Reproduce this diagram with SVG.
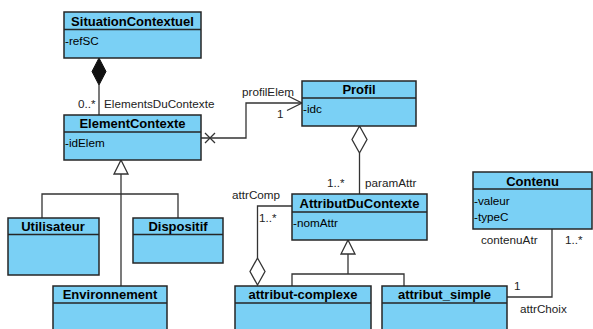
<svg xmlns="http://www.w3.org/2000/svg" width="593" height="329" viewBox="0 0 593 329">
<style>
.box{fill:#7AD0F5;stroke:#262626;stroke-width:1.5}
.div{stroke:#262626;stroke-width:1.5}
.t{font-family:"Liberation Sans",Arial,sans-serif;font-size:13px;font-weight:bold;fill:#000;text-anchor:middle}
.a{font-family:"Liberation Sans",Arial,sans-serif;font-size:11.7px;fill:#000}
.l{font-family:"Liberation Sans",Arial,sans-serif;font-size:11.7px;fill:#222}
.c{fill:none;stroke:#333;stroke-width:1.3}
</style>
<rect width="593" height="329" fill="#fff"/>
<g id="connectors">
  <!-- composition SituationContextuel - ElementContexte -->
  <line class="c" x1="99" y1="85" x2="99" y2="115"/>
  <polygon points="99,58 106,71.5 99,85 92,71.5" fill="#111" stroke="#111" stroke-width="1"/>
  <text class="l" x="78" y="108">0..*</text>
  <text class="l" x="104" y="108">ElementsDuContexte</text>
  <!-- ElementContexte -> Profil -->
  <polyline class="c" points="201,138 246,138 246,103 302,103"/>
  <path class="c" d="M205,133 L215,143 M215,133 L205,143"/>
  <path class="c" d="M288,96 L302,103 L287,110.5"/>
  <text class="l" x="242" y="96">profilElem</text>
  <text class="l" x="277" y="118">1</text>
  <!-- generalization to ElementContexte -->
  <line class="c" x1="121" y1="174" x2="121" y2="286"/>
  <polyline class="c" points="42,218 42,194 178,194 178,218"/>
  <polygon points="121,160 128,174 114,174" fill="#fff" stroke="#333" stroke-width="1.3"/>
  <!-- aggregation Profil - AttributDuContexte -->
  <line class="c" x1="359.5" y1="153" x2="359.5" y2="194"/>
  <polygon points="359.5,126 367,139.5 359.5,153 352,139.5" fill="#fff" stroke="#333" stroke-width="1.3"/>
  <text class="l" x="327" y="187">1..*</text>
  <text class="l" x="365" y="187">paramAttr</text>
  <!-- aggregation attribut-complexe - AttributDuContexte -->
  <polyline class="c" points="292,206 257.5,206 257.5,258"/>
  <polygon points="257.5,258 265,271.5 257.5,285 250,271.5" fill="#fff" stroke="#333" stroke-width="1.3"/>
  <text class="l" x="232" y="199">attrComp</text>
  <text class="l" x="259" y="222">1..*</text>
  <!-- generalization to AttributDuContexte -->
  <line class="c" x1="348" y1="254" x2="348" y2="274"/>
  <polyline class="c" points="292,286 292,274 404,274 404,286"/>
  <polygon points="348,240 355,254 341,254" fill="#fff" stroke="#333" stroke-width="1.3"/>
  <!-- Contenu - attribut_simple -->
  <polyline class="c" points="552,229 552,297 507,297"/>
  <text class="l" x="481" y="244">contenuAtr</text>
  <text class="l" x="565" y="244">1..*</text>
  <text class="l" x="514" y="290">1</text>
  <text class="l" x="520" y="313">attrChoix</text>
</g>
<g id="SituationContextuel">
  <rect class="box" x="64" y="12" width="137" height="46"/>
  <line class="div" x1="64" y1="29.5" x2="201" y2="29.5"/>
  <text class="t" x="132.5" y="26">SituationContextuel</text>
  <text class="a" x="65" y="45">-refSC</text>
</g>
<g id="ElementContexte">
  <rect class="box" x="64" y="115" width="137" height="45"/>
  <line class="div" x1="64" y1="132" x2="201" y2="132"/>
  <text class="t" x="132.5" y="128">ElementContexte</text>
  <text class="a" x="65" y="147">-idElem</text>
</g>
<g id="Profil">
  <rect class="box" x="302" y="81" width="114" height="45"/>
  <line class="div" x1="302" y1="98" x2="416" y2="98"/>
  <text class="t" x="359" y="94">Profil</text>
  <text class="a" x="303" y="113">-idc</text>
</g>
<g id="AttributDuContexte">
  <rect class="box" x="292" y="194" width="135" height="46"/>
  <line class="div" x1="292" y1="212" x2="427" y2="212"/>
  <text class="t" x="359.5" y="208">AttributDuContexte</text>
  <text class="a" x="293" y="227">-nomAttr</text>
</g>
<g id="Contenu">
  <rect class="box" x="473" y="172" width="119" height="57"/>
  <line class="div" x1="473" y1="189" x2="592" y2="189"/>
  <text class="t" x="532.5" y="186">Contenu</text>
  <text class="a" x="474" y="205">-valeur</text>
  <text class="a" x="474" y="221">-typeC</text>
</g>
<g id="Utilisateur">
  <rect class="box" x="8" y="218" width="91" height="57"/>
  <line class="div" x1="8" y1="234.5" x2="99" y2="234.5"/>
  <text class="t" x="53" y="231">Utilisateur</text>
</g>
<g id="Dispositif">
  <rect class="box" x="133" y="218" width="90" height="45"/>
  <line class="div" x1="133" y1="234.5" x2="223" y2="234.5"/>
  <text class="t" x="178" y="231">Dispositif</text>
</g>
<g id="Environnement">
  <rect class="box" x="53" y="286" width="114" height="60"/>
  <line class="div" x1="53" y1="303" x2="167" y2="303"/>
  <text class="t" x="110" y="299">Environnement</text>
</g>
<g id="attribut-complexe">
  <rect class="box" x="235" y="286" width="136" height="60"/>
  <line class="div" x1="235" y1="303" x2="371" y2="303"/>
  <text class="t" x="303" y="299">attribut-complexe</text>
</g>
<g id="attribut_simple">
  <rect class="box" x="382" y="286" width="125" height="60"/>
  <line class="div" x1="382" y1="303" x2="507" y2="303"/>
  <text class="t" x="444.5" y="299">attribut_simple</text>
</g>
</svg>
